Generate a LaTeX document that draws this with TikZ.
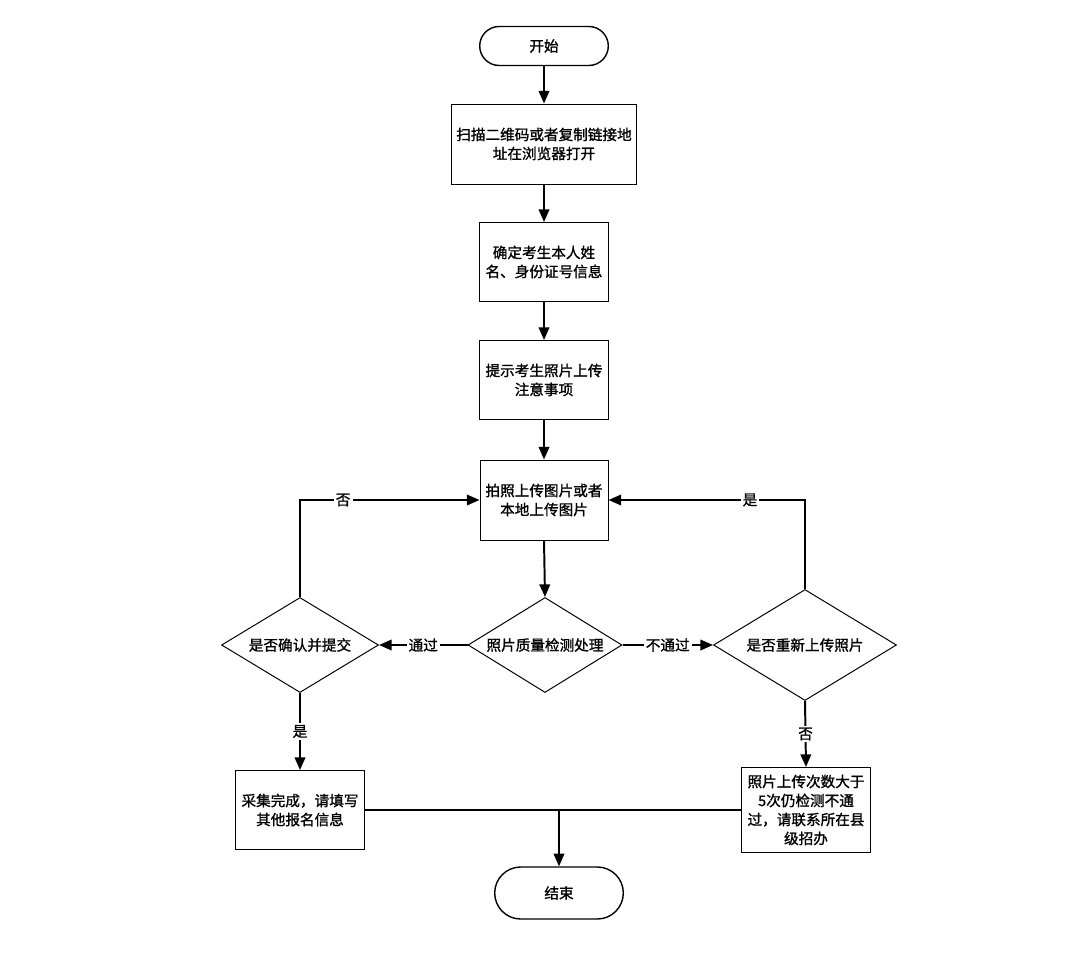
\documentclass[tikz,border=0pt]{standalone}
\usepackage{fontspec}
\setmainfont{Noto Sans CJK SC}[FakeBold=1.2]
\usetikzlibrary{shapes.geometric,shapes.misc,arrows.meta}
\newcommand{\cnfont}{\fontsize{10.4}{13.5}\selectfont}
\tikzset{terminal/.style={
		rounded rectangle,
		draw,
		line width=1pt,
		minimum width=3.45cm,
		minimum height=0.975cm,
		font=\cnfont},
	process/.style={
		rectangle,
		draw,
		line width=0.7pt,
		minimum width=3.225cm,
		minimum height=1.975cm,
		align=center,
		font=\cnfont},
	decision/.style={
		diamond,
		draw,
		line width=0.7pt,
		inner sep=0pt,
		aspect=1.62,
		font=\cnfont},
	flow/.style={-{Triangle[length=9pt,width=7.5pt]}, line width=1.4pt},
	tag/.style={fill=white, inner sep=1.5pt, font=\cnfont}}

\begin{document}
\begin{tikzpicture}
				\fill[white] (0,0) rectangle (27,-24.375);
				\useasboundingbox (0,0) rectangle (27,-24.375);
				
				\node[terminal] (Start) at (13.6,-1.15) {开始};
				\node[process, minimum width=4.575cm, minimum height=2cm] (Scan) at (13.6,-3.6) {扫描二维码或者复制链接地\\址在浏览器打开};
				\node[process] (Ident) at (13.6,-6.55) {确定考生本人姓\\名、身份证号信息};
				\node[process] (Notice) at (13.6,-9.5) {提示考生照片上传\\注意事项};
				\node[process, minimum width=3.2cm, minimum height=2cm] (Upload) at (13.6,-12.5) {拍照上传图片或者\\本地上传图片};
				\node[decision, minimum width=3.85cm, minimum height=2.375cm] (Check) at (13.625,-16.125) {照片质量检测处理};
				\node[decision, minimum width=3.925cm, minimum height=2.375cm] (Confirm) at (7.5,-16.125) {是否确认并提交};
				\node[decision, minimum width=4.575cm, minimum height=2.775cm] (Retry) at (20.125,-16.125) {是否重新上传照片};
				\node[process] (Done) at (7.5,-20.25) {采集完成，请填写\\其他报名信息};
				\node[process, minimum height=2.125cm] (Fail) at (20.15,-20.25) {照片上传次数大于\\5次仍检测不通\\过，请联系所在县\\级招办};
				\node[terminal, minimum height=1.3cm] (End) at (13.975,-22.325) {结束};
				\coordinate (Join) at (Done.east -| End.north);
				
				\draw[flow] (Start.south) -- (Scan.north);
				\draw[flow] (Scan.south) -- (Ident.north);
				\draw[flow] (Ident.south) -- (Notice.north);
				\draw[flow] (Notice.south) -- (Upload.north);
				\draw[flow] (Upload.south) -- (Check.north);
				\draw[flow] (Check.west) -- (Confirm.east) node[midway,tag] {通过};
				\draw[flow] (Check.east) -- (Retry.west) node[midway,tag] {不通过};
				\draw[flow] (Confirm.north) |- (Upload.west) node[pos=0.62,tag] {否};
				\draw[flow] (Retry.north) |- (Upload.east) node[pos=0.64,tag] {是};
				\draw[flow] (Confirm.south) -- (Done.north) node[midway,tag] {是};
				\draw[flow] (Retry.south) -- (Fail.north) node[midway,tag] {否};
				\draw[line width=1.4pt] (Done.east) -- (Fail.west);
				\draw[flow] (Join) -- (End.north);
			\end{tikzpicture}
\end{document}
